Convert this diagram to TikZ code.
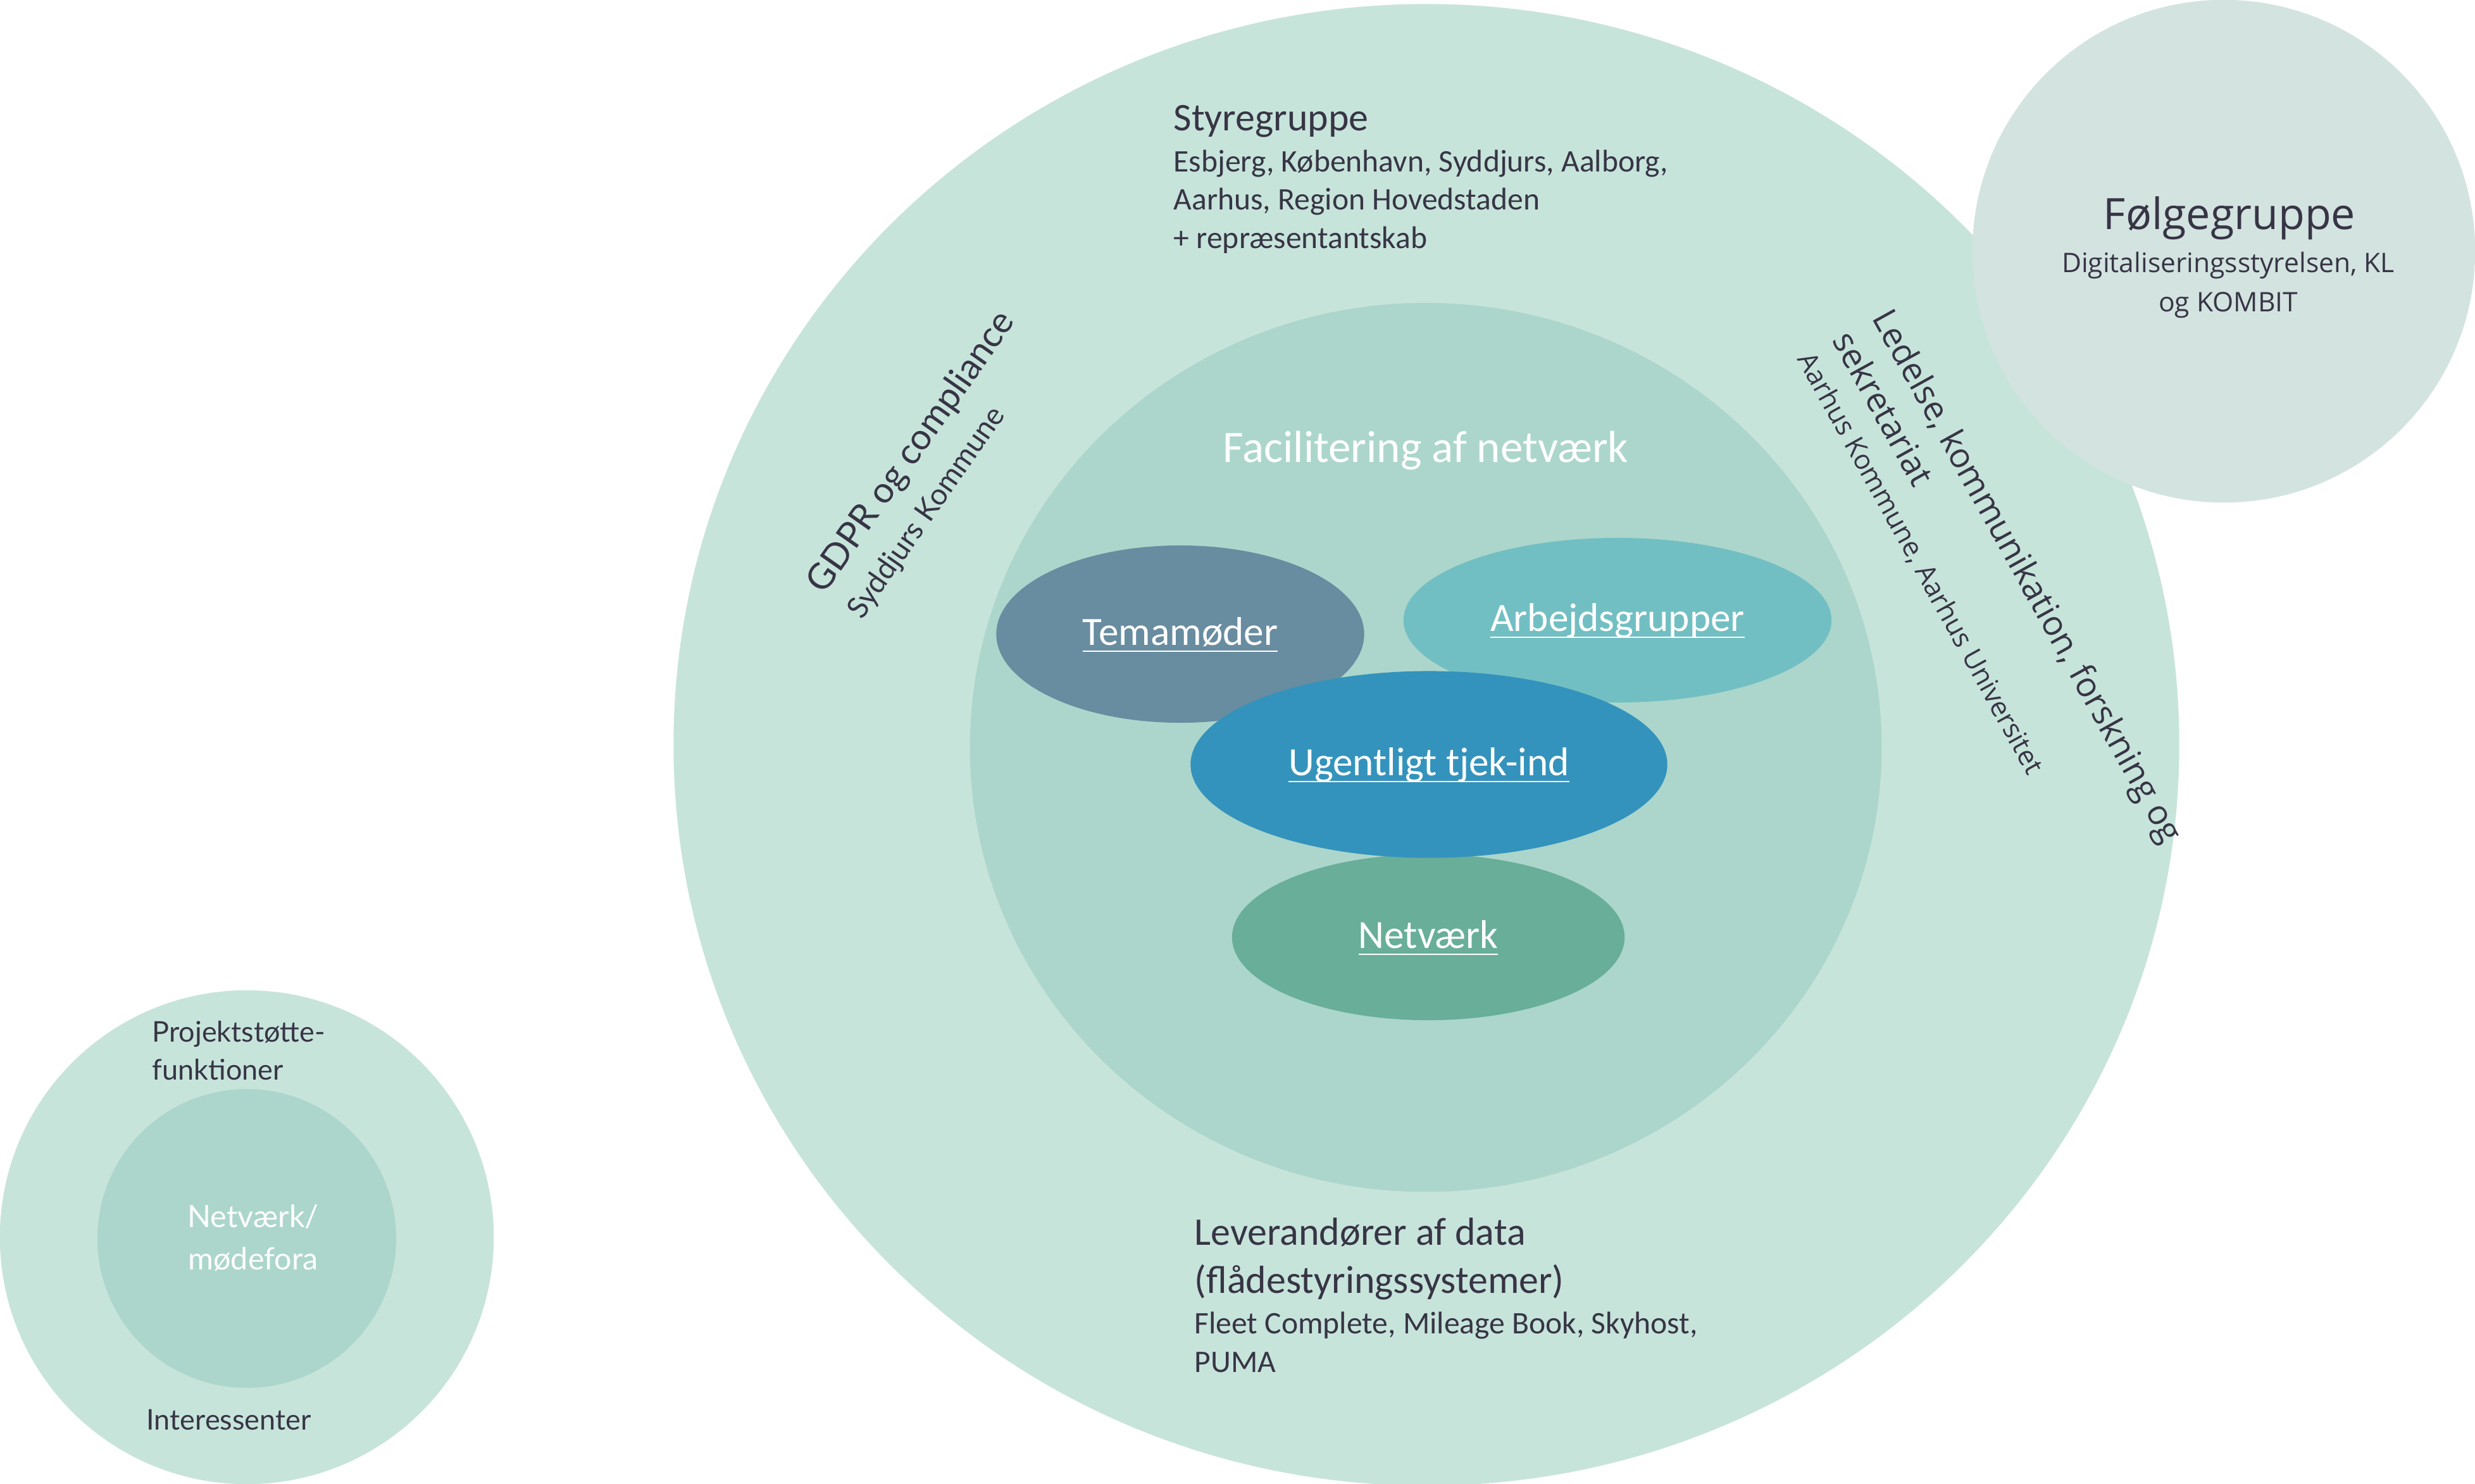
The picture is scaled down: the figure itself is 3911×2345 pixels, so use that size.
\documentclass[tikz,border=0pt]{standalone}
\usepackage{fontspec}
\setmainfont{Carlito}
\newfontfamily\opensans{Open Sans}
\newfontfamily\lato{Lato}
\usetikzlibrary{shapes.geometric}
\definecolor{ink}{HTML}{373545}
\definecolor{outer}{HTML}{C7E4DB}
\definecolor{inner}{HTML}{ACD6CB}
\definecolor{follow}{HTML}{D3E3E0}
\definecolor{tema}{HTML}{688CA0}
\definecolor{arbejd}{HTML}{72BFC3}
\definecolor{ugent}{HTML}{3493BC}
\definecolor{netv}{HTML}{68AE99}
\newcommand{\ulabel}[1]{\setbox0\hbox{#1}\rlap{\rule[-0.17em]{\wd0}{0.045em}}\box0}

\begin{document}
\begin{tikzpicture}[x=0.01cm, y=-0.01cm,
    disc/.style={circle, inner sep=0pt},
    oval/.style={ellipse, inner sep=0pt},
    blob/.style={ellipse, inner sep=0pt, text=white, text height=1em, text depth=0pt,
      font=\fontsize{18}{20}\selectfont},
    head/.style={inner sep=0pt, text=ink, align=left, font=\fontsize{17.6}{21.6}\selectfont},
    names/.style={inner sep=0pt, text=ink, align=left, font=\fontsize{14.1}{17.1}\selectfont},
    plain/.style={inner sep=0pt, text=ink}]
  \useasboundingbox (0,0) rectangle (3911,2345);
  % rings
  \node[oval, fill=outer, minimum width=23.78cm, minimum height=23.40cm] (ring) at (2254,1177) {};
  \node[oval, fill=inner, minimum width=14.40cm, minimum height=14.04cm] (core) at (2253,1181) {};
  \node[disc, fill=follow, minimum size=7.94cm] (folg) at (3514,397) {};
  \node[disc, fill=outer, minimum size=7.80cm] (leg) at (390,1955) {};
  \node[disc, fill=inner, minimum size=4.72cm] (legcore) at (390,1957) {};
  % forums
  \node[blob, fill=tema, minimum width=5.81cm, minimum height=2.80cm] (tema) at (1865,1002) {\ulabel{Temamøder}};
  \node[blob, fill=arbejd, minimum width=6.76cm, minimum height=2.60cm] (arbejd) at (2556,980) {\ulabel{Arbejdsgrupper}};
  \node[blob, fill=netv, minimum width=6.20cm, minimum height=2.62cm] (netv) at (2257,1481) {\ulabel{Netværk}};
  \node[blob, fill=ugent, minimum width=7.53cm, minimum height=2.95cm] (ugent) at (2258,1208) {\ulabel{Ugentligt tjek-ind}};
  % texts (multi-line nodes sit on their last baseline)
  \node[plain, text=white, anchor=base, font=\fontsize{20.2}{24}\selectfont] (facil) at (2253,730) {Facilitering af netværk};
  \node[head, anchor=base west] (styre) at (1854,206) {Styregruppe};
  \node[names, anchor=base west] (styrelist) at (1854,392) {Esbjerg, København, Syddjurs, Aalborg,\\Aarhus, Region Hovedstaden\\+ repræsentantskab};
  \node[head, anchor=base west] (lev) at (1887,2043) {Leverandører af data\\(flådestyringssystemer)};
  \node[names, anchor=base west] (levlist) at (1887,2168) {Fleet Complete, Mileage Book, Skyhost,\\PUMA};
  \node[plain, anchor=base, font=\opensans\fontsize{19.4}{24}\selectfont] (folgtitle) at (3523,362) {Følgegruppe};
  \node[plain, anchor=base, align=center, font=\opensans\fontsize{12.1}{17.4}\selectfont] (folglist) at (3521,492) {Digitaliseringsstyrelsen, KL\\og KOMBIT};
  \node[plain, anchor=base west, rotate=-61, align=left, font=\opensans\fontsize{15.3}{20.5}\selectfont] (ledelse) at (2894,537) {Ledelse, kommunikation, forskning og\\sekretariat};
  \node[plain, anchor=base west, rotate=-61, font=\opensans\fontsize{12.2}{15}\selectfont] (aarhus) at (2839,567) {Aarhus Kommune, Aarhus Universitet};
  \node[plain, anchor=base west, rotate=55, font=\lato\fontsize{16.2}{20}\selectfont] (gdpr) at (1302,941) {GDPR og compliance};
  \node[plain, anchor=base west, rotate=55, font=\lato\fontsize{13.3}{16}\selectfont] (syddjurs) at (1362,981) {Syddjurs Kommune};
  % legend
  \node[plain, anchor=base west, align=left, font=\lato\fontsize{12.8}{16.8}\selectfont] (stotte) at (240,1706) {Projektstøtte-\\funktioner};
  \node[plain, anchor=base west, font=\lato\fontsize{12.8}{15}\selectfont] (inter) at (231,2259) {Interessenter};
  \node[plain, text=white, anchor=base, align=center, font=\lato\fontsize{13.8}{18.8}\selectfont] (forum) at (400,2006) {Netværk/\\mødefora};
\end{tikzpicture}
\end{document}
